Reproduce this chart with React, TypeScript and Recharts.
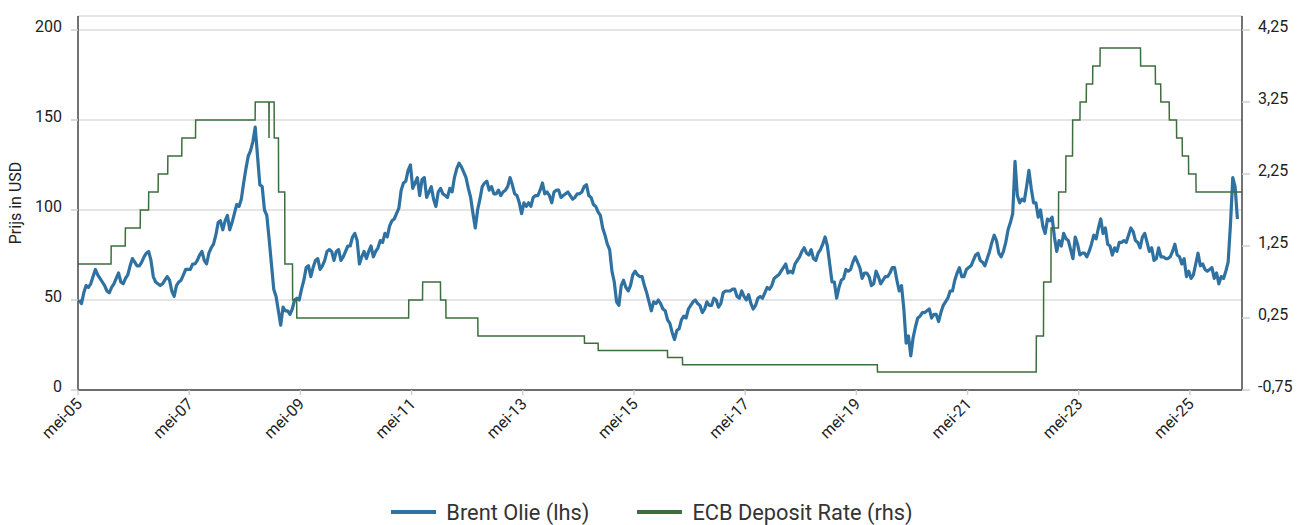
import React from 'react';
import { LineChart, Line, XAxis, YAxis, CartesianGrid, Legend } from 'recharts';

const FONT = 'Roboto, "Noto Sans", "DejaVu Sans", sans-serif';
const BLUE = '#2f72a1';
const GREEN = '#3d6e3e';

// Brent oil price (USD), two readings per month (first / second half)
const BRENT_2005 = [50, 48, 54, 58, 57, 59, 63, 67, 64, 62, 60, 58, 55, 54, 57, 59]; // May-Dec
const BRENT_2006 = [62, 65, 60, 59, 62, 64, 69, 73, 71, 69, 69, 71, 74, 76, 77, 72, 63, 60, 59, 58, 59, 61, 63, 61];
const BRENT_2007 = [55, 52, 58, 60, 61, 64, 67, 67, 67, 70, 70, 72, 75, 77, 72, 70, 76, 79, 81, 86, 93, 94, 89, 94];
const BRENT_2008 = [97, 89, 93, 98, 103, 102, 106, 115, 123, 130, 133, 138, 146, 130, 114, 113, 100, 97, 84, 70, 56, 52, 44, 36];
const BRENT_2009 = [46, 44, 44, 42, 45, 50, 51, 50, 56, 61, 68, 69, 63, 68, 72, 73, 67, 69, 72, 77, 78, 77, 72, 77];
const BRENT_2010 = [78, 72, 74, 77, 80, 80, 85, 87, 83, 70, 74, 77, 73, 77, 80, 74, 77, 79, 83, 82, 87, 85, 91, 94];
const BRENT_2011 = [95, 98, 101, 111, 115, 116, 122, 125, 112, 115, 118, 108, 117, 118, 107, 110, 113, 106, 102, 110, 112, 109, 108, 107];
const BRENT_2012 = [112, 110, 118, 123, 126, 124, 121, 118, 112, 107, 98, 90, 100, 106, 113, 115, 116, 111, 113, 109, 109, 111, 108, 110];
const BRENT_2013 = [111, 113, 118, 114, 109, 108, 104, 98, 104, 102, 104, 102, 107, 108, 108, 111, 115, 109, 110, 108, 104, 110, 111, 111];
const BRENT_2014 = [107, 108, 109, 110, 108, 106, 107, 109, 109, 110, 113, 114, 108, 107, 103, 102, 99, 97, 90, 86, 81, 78, 66, 60];
const BRENT_2015 = [49, 47, 58, 61, 57, 55, 58, 64, 66, 64, 63, 63, 58, 54, 49, 44, 49, 48, 50, 48, 45, 44, 39, 37];
const BRENT_2016 = [32, 28, 33, 34, 39, 41, 40, 45, 47, 49, 50, 48, 47, 43, 45, 49, 47, 47, 51, 50, 46, 48, 54, 55];
const BRENT_2017 = [55, 55, 56, 56, 52, 51, 55, 52, 50, 53, 48, 45, 47, 51, 52, 51, 54, 57, 56, 58, 62, 63, 64, 66];
const BRENT_2018 = [68, 70, 65, 66, 65, 70, 72, 74, 77, 79, 76, 75, 78, 73, 72, 76, 78, 81, 85, 80, 70, 60, 60, 51];
const BRENT_2019 = [57, 61, 62, 67, 66, 67, 71, 74, 71, 68, 62, 65, 65, 63, 58, 59, 66, 63, 59, 61, 63, 63, 65, 68];
const BRENT_2020 = [68, 61, 55, 58, 45, 26, 30, 19, 29, 35, 40, 41, 43, 43, 44, 45, 40, 42, 42, 38, 43, 47, 49, 51];
const BRENT_2021 = [55, 55, 61, 65, 68, 63, 63, 67, 68, 69, 72, 75, 76, 72, 71, 69, 73, 77, 82, 86, 83, 76, 74, 77];
const BRENT_2022 = [82, 89, 93, 98, 127, 108, 104, 106, 105, 113, 122, 112, 104, 104, 96, 100, 91, 87, 95, 94, 96, 85, 77, 83];
const BRENT_2023 = [80, 87, 84, 83, 78, 73, 85, 81, 75, 76, 76, 74, 77, 81, 86, 84, 90, 95, 87, 90, 81, 80, 75, 79];
const BRENT_2024 = [77, 82, 82, 83, 82, 86, 90, 88, 83, 82, 79, 85, 87, 82, 77, 79, 72, 73, 79, 74, 74, 73, 73, 74];
const BRENT_2025 = [77, 81, 75, 74, 70, 73, 63, 66, 62, 64, 70, 76, 69, 70, 67, 66, 67, 68, 62, 65, 59, 63, 62, 66];
const BRENT_2026 = [71, 92, 118, 113, 95]; // Jan-Mar

// year, first half-month index, values
const BRENT_YEARS: [number, number, number[]][] = [
  [2005, 8, BRENT_2005], [2006, 0, BRENT_2006], [2007, 0, BRENT_2007], [2008, 0, BRENT_2008],
  [2009, 0, BRENT_2009], [2010, 0, BRENT_2010], [2011, 0, BRENT_2011], [2012, 0, BRENT_2012],
  [2013, 0, BRENT_2013], [2014, 0, BRENT_2014], [2015, 0, BRENT_2015], [2016, 0, BRENT_2016],
  [2017, 0, BRENT_2017], [2018, 0, BRENT_2018], [2019, 0, BRENT_2019], [2020, 0, BRENT_2020],
  [2021, 0, BRENT_2021], [2022, 0, BRENT_2022], [2023, 0, BRENT_2023], [2024, 0, BRENT_2024],
  [2025, 0, BRENT_2025], [2026, 0, BRENT_2026],
];

// ECB deposit facility rate (%), effective dates of changes
const ECB_DATES = [
  '2005-05-01', '2005-12-06', '2006-03-08', '2006-06-15', '2006-08-09', '2006-10-11', '2006-12-13',
  '2007-03-14', '2007-06-13', '2008-07-09', '2008-10-08', '2008-10-09', '2008-11-12', '2008-12-10',
  '2009-01-21', '2009-03-11', '2009-04-08', '2011-04-13', '2011-07-13', '2011-11-09', '2011-12-14',
  '2012-07-11', '2014-06-11', '2014-09-10', '2015-12-09', '2016-03-16', '2019-09-18', '2022-07-27',
  '2022-09-14', '2022-11-02', '2022-12-21', '2023-02-08', '2023-03-22', '2023-05-10', '2023-06-21',
  '2023-08-02', '2023-09-20', '2024-06-12', '2024-09-18', '2024-10-23', '2024-12-18', '2025-02-05',
  '2025-03-12', '2025-04-23', '2025-06-11',
];
const ECB_RATES = [
  1.0, 1.25, 1.5, 1.75, 2.0, 2.25, 2.5,
  2.75, 3.0, 3.25, 2.75, 3.25, 2.75, 2.0,
  1.0, 0.5, 0.25, 0.5, 0.75, 0.5, 0.25,
  0.0, -0.1, -0.2, -0.3, -0.4, -0.5, 0.0,
  0.75, 1.5, 2.0, 2.5, 3.0, 3.25, 3.5,
  3.75, 4.0, 3.75, 3.5, 3.25, 3.0, 2.75,
  2.5, 2.25, 2.0,
];
const ECB_END = '2026-04-08';

const X_START = 2005 + 4 / 12;
const X_END = 2026.27;
const X_TICKS = [2005, 2007, 2009, 2011, 2013, 2015, 2017, 2019, 2021, 2023, 2025].map((y) => y + 4 / 12);
const LEFT_TICKS = [0, 50, 100, 150, 200];
const RIGHT_TICKS = [-0.75, 0.25, 1.25, 2.25, 3.25, 4.25];

const toYear = (s: string) => {
  const [y, m, d] = s.split('-').map(Number);
  return y + (m - 1) / 12 + (d - 1) / 365.25;
};

const brentData = BRENT_YEARS.flatMap(([year, off, vals]) =>
  vals.map((v, i) => ({ t: year + (off + i + 0.5) / 24, v }))
);

const ecbData = (() => {
  const pts: { t: number; r: number }[] = [];
  ECB_DATES.forEach((d, i) => {
    const t = toYear(d);
    if (i > 0) pts.push({ t: t - 1 / 365.25, r: ECB_RATES[i - 1] });
    pts.push({ t, r: ECB_RATES[i] });
  });
  pts.push({ t: toYear(ECB_END), r: ECB_RATES[ECB_RATES.length - 1] });
  return pts;
})();

const fmtX = (v: number) => {
  const y = Math.round(v - 4 / 12);
  return `mei-${String(y % 100).padStart(2, '0')}`;
};
const fmtRight = (v: number) => v.toFixed(2).replace('.', ',');

const LeftTick = (p: any) => (
  <text x={p.x} y={p.y - 4} dy="0.355em" textAnchor="end" fontSize={16} fill="#222" fontFamily={FONT}>
    {p.payload.value}
  </text>
);
const RightTick = (p: any) => (
  <text x={p.x} y={p.y - 4} dy="0.355em" textAnchor="start" fontSize={16} fill="#222" fontFamily={FONT}>
    {fmtRight(p.payload.value)}
  </text>
);
const BottomTick = (p: any) => {
  const ax = p.x + 5;
  const ay = p.y + 8;
  return (
    <text x={ax} y={ay} transform={`rotate(-45, ${ax}, ${ay})`} textAnchor="end" fontSize={16} fill="#222" fontFamily={FONT}>
      {fmtX(p.payload.value)}
    </text>
  );
};

const LegendContent = () => (
  <div
    style={{
      display: 'flex', justifyContent: 'center', alignItems: 'center', height: 26,
      paddingLeft: 7, fontFamily: FONT, fontSize: 21.8, color: '#333',
    }}
  >
    <span style={{ display: 'inline-block', width: 45, height: 4, background: BLUE, marginRight: 10 }} />
    <span>Brent Olie (lhs)</span>
    <span style={{ display: 'inline-block', width: 45, height: 4, background: GREEN, marginLeft: 48, marginRight: 10 }} />
    <span>ECB Deposit Rate (rhs)</span>
  </div>
);

export default function App() {
  return (
    <div style={{ width: 1297, height: 525, background: '#fff' }}>
      <style>{'body{margin:0}'}</style>
      <LineChart width={1297} height={525} margin={{ top: 16, right: 0, bottom: 0, left: 0 }}>
        <CartesianGrid vertical={false} yAxisId="left" stroke="#dcdcdc" strokeWidth={1.5} />
        <XAxis
          type="number"
          dataKey="t"
          domain={[X_START, X_END]}
          allowDataOverflow
          ticks={X_TICKS}
          interval={0}
          height={109}
          stroke="#444"
          strokeWidth={1.5}
          tickLine={{ stroke: '#cfcfcf', strokeWidth: 1.5 }}
          tickSize={5}
          tickMargin={2}
          tick={<BottomTick />}
        />
        <YAxis
          yAxisId="left"
          domain={[0, 200]}
          ticks={LEFT_TICKS}
          interval={0}
          width={78}
          padding={{ top: 14 }}
          stroke="#444"
          strokeWidth={1.5}
          tickLine={{ stroke: '#cfcfcf', strokeWidth: 1.5 }}
          tickSize={7}
          tickMargin={9}
          tick={<LeftTick />}
          label={{
            value: 'Prijs in USD', angle: -90, position: 'insideLeft', offset: 15,
            style: { textAnchor: 'middle', fontSize: 16, fill: '#222', fontFamily: FONT },
          }}
        />
        <YAxis
          yAxisId="right"
          orientation="right"
          domain={[-0.75, 4.25]}
          ticks={RIGHT_TICKS}
          interval={0}
          width={55}
          padding={{ top: 14 }}
          allowDataOverflow
          stroke="#444"
          strokeWidth={1.5}
          tickLine={{ stroke: '#cfcfcf', strokeWidth: 1.5 }}
          tickSize={8}
          tickMargin={8}
          tick={<RightTick />}
        />
        <Line
          yAxisId="left"
          data={brentData}
          dataKey="v"
          type="linear"
          stroke={BLUE}
          strokeWidth={3.2}
          strokeLinejoin="round"
          dot={false}
          activeDot={false}
          isAnimationActive={false}
          name="Brent Olie (lhs)"
        />
        <Line
          yAxisId="right"
          data={ecbData}
          dataKey="r"
          type="linear"
          stroke={GREEN}
          strokeWidth={1.5}
          dot={false}
          activeDot={false}
          isAnimationActive={false}
          name="ECB Deposit Rate (rhs)"
        />
        <Legend verticalAlign="bottom" content={<LegendContent />} />
      </LineChart>
    </div>
  );
}
